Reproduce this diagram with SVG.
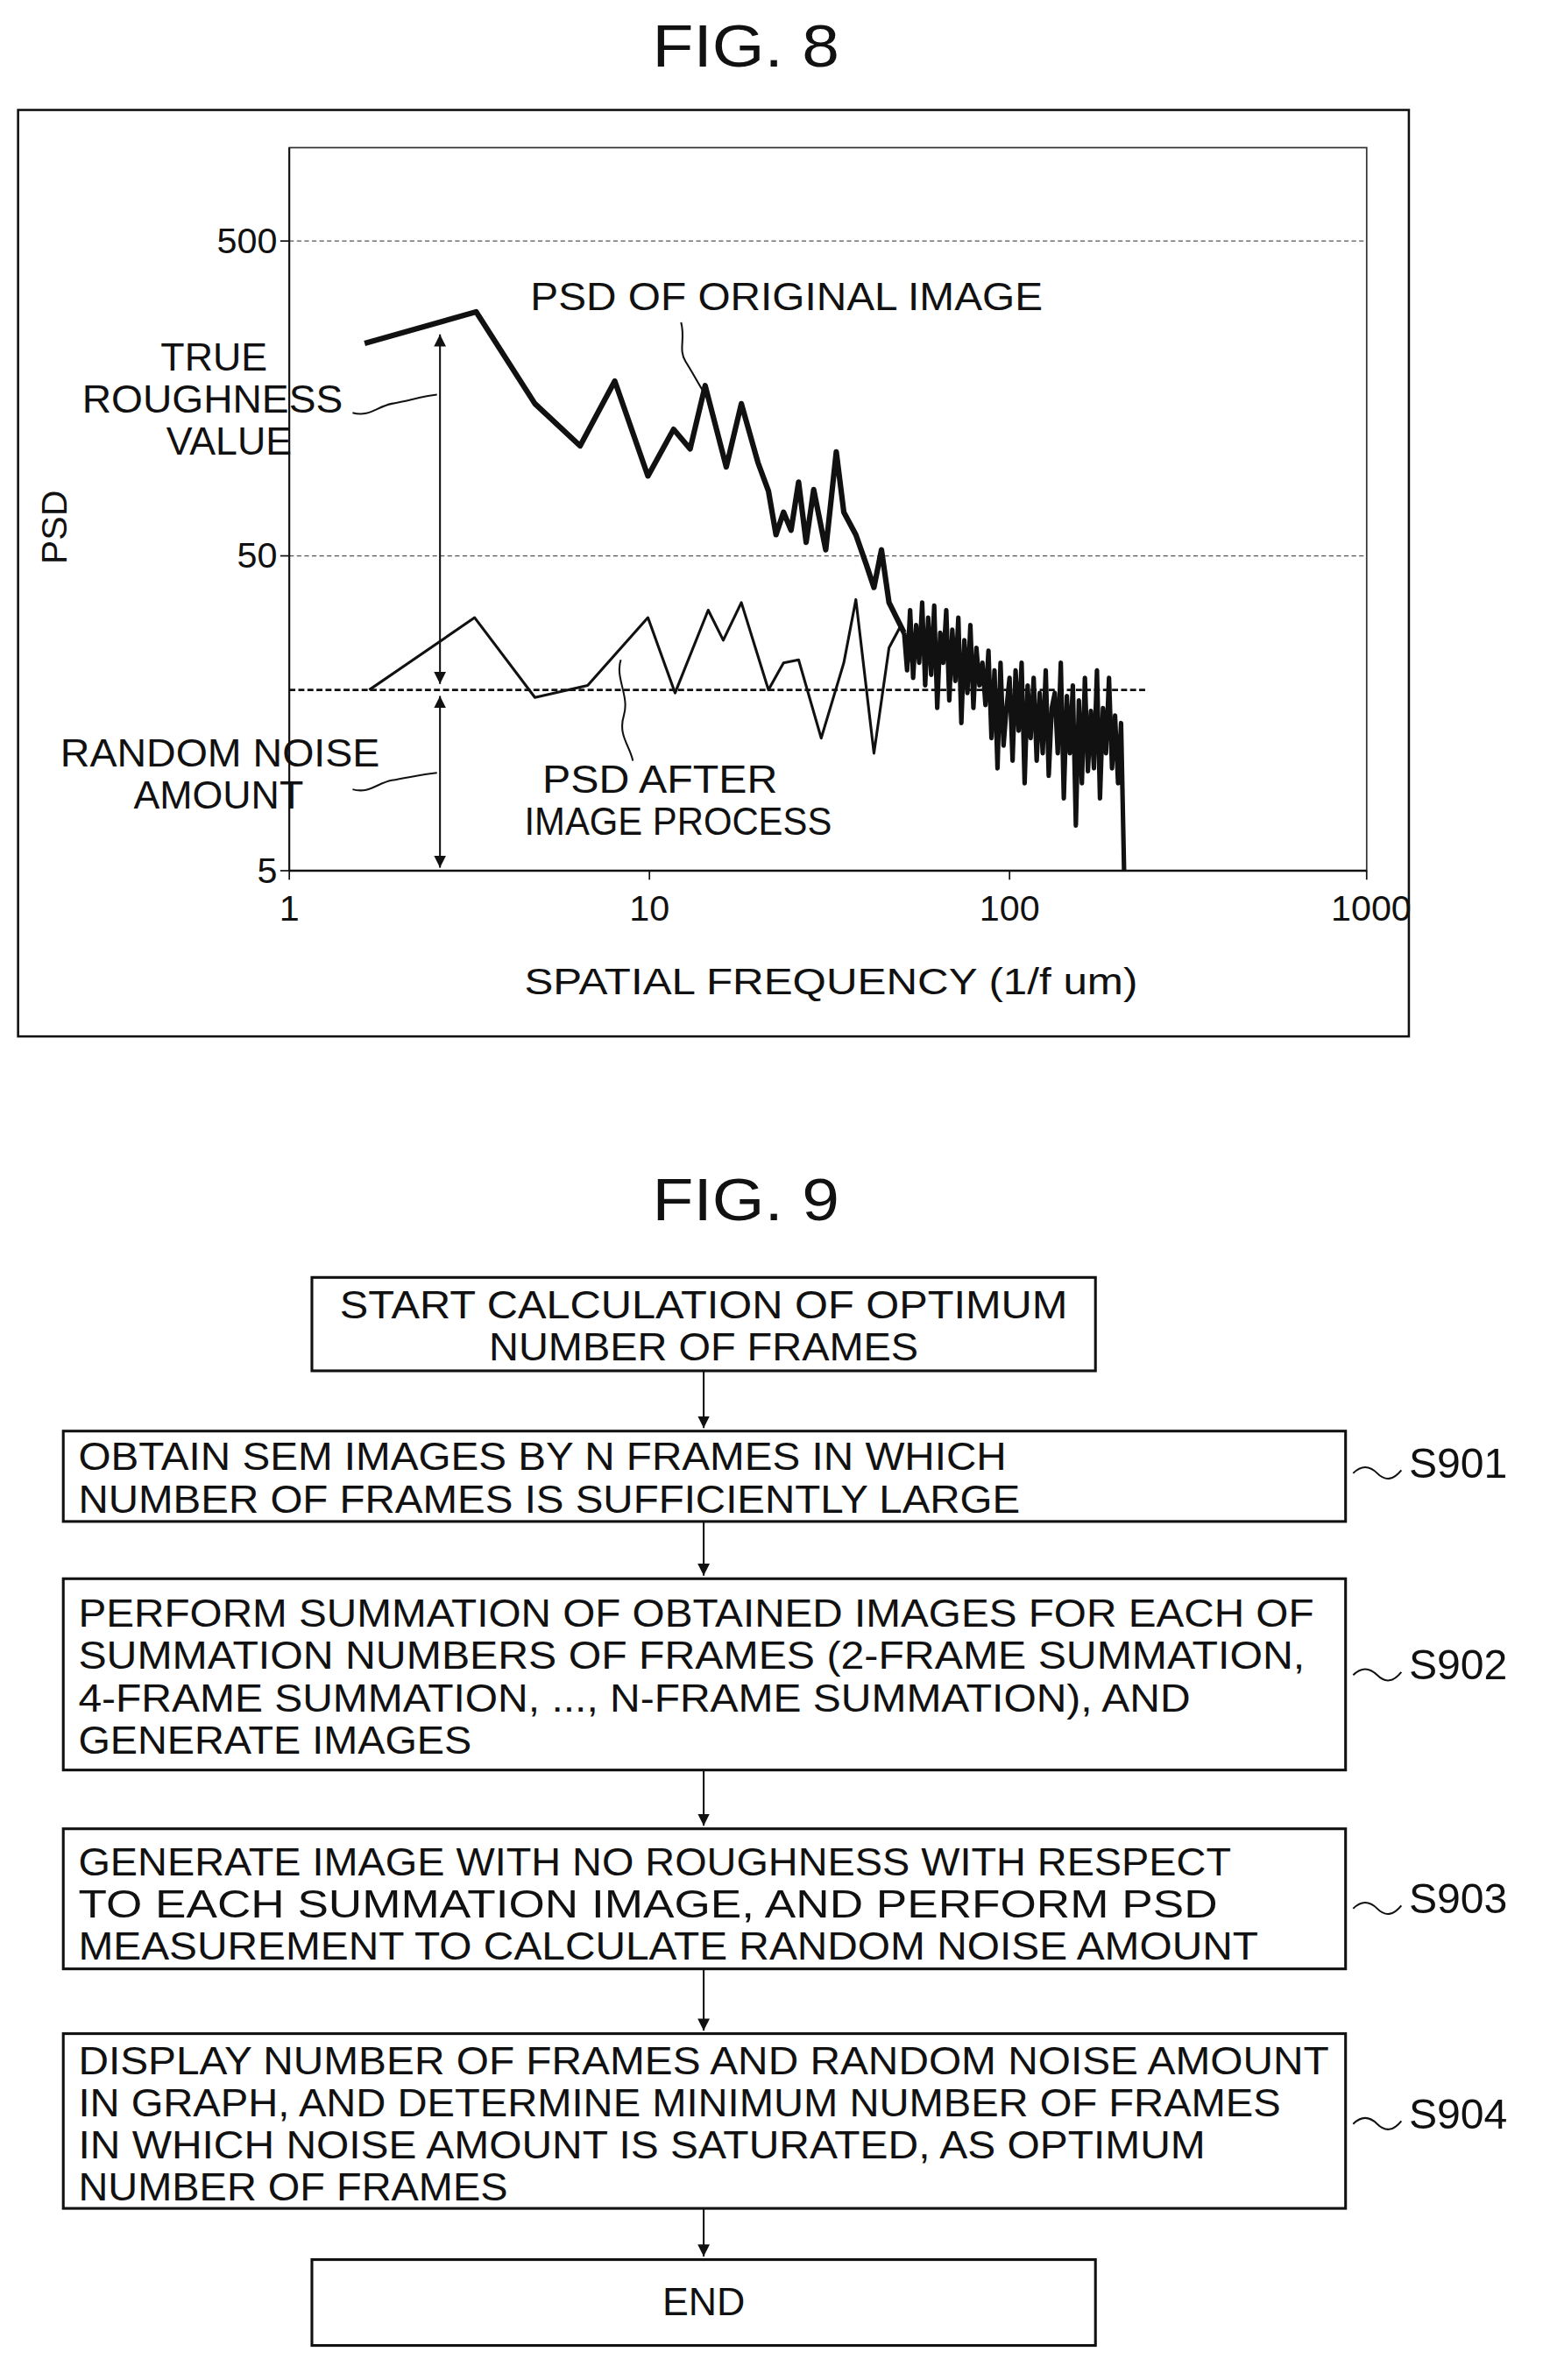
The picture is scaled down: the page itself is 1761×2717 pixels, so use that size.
<svg xmlns="http://www.w3.org/2000/svg" width="1761" height="2717" viewBox="0 0 1761 2717">
<style>
text{font-family:"Liberation Sans",Arial,sans-serif;fill:#111;}
.t{font-size:26px;}
.s{font-size:28px;}
.box{fill:#fff;stroke:#111;stroke-width:1.8;}
.grid{stroke:#555;stroke-width:0.8;stroke-dasharray:3 2;fill:none;}
.ln{fill:none;stroke:#111;stroke-width:1.2;}
</style>
<defs>
<marker id="ah" markerWidth="10" markerHeight="10" refX="8" refY="5" orient="auto-start-reverse" markerUnits="userSpaceOnUse"><path d="M0,1 L8,5 L0,9 z" fill="#111"/></marker>
</defs>
<rect width="1761" height="2717" fill="#fff"/>
<g transform="scale(1.7197)">
<g id="fig8">
<text x="495" y="44" font-size="40" text-anchor="middle" textLength="124" lengthAdjust="spacingAndGlyphs">FIG. 8</text>
<rect x="12" y="73" width="923" height="615" fill="none" stroke="#111" stroke-width="1.5"/>
<rect x="192" y="98" width="715" height="480" fill="none" stroke="#333" stroke-width="1"/>
<line class="grid" x1="192" y1="160" x2="907" y2="160"/>
<line class="grid" x1="192" y1="369" x2="907" y2="369"/>
<line x1="192" y1="578" x2="907" y2="578" stroke="#111" stroke-width="1.5"/>
<line x1="192" y1="98" x2="192" y2="578" stroke="#111" stroke-width="1.2"/>
<g stroke="#111" stroke-width="1"><line x1="186" y1="160" x2="192" y2="160"/><line x1="186" y1="369" x2="192" y2="369"/><line x1="186" y1="578" x2="192" y2="578"/><line x1="192" y1="578" x2="192" y2="584"/><line x1="431" y1="578" x2="431" y2="584"/><line x1="670" y1="578" x2="670" y2="584"/><line x1="907" y1="578" x2="907" y2="584"/></g>
<g font-size="24">
<text x="184" y="168" text-anchor="end">500</text>
<text x="184" y="377" text-anchor="end">50</text>
<text x="184" y="586" text-anchor="end">5</text>
<text x="192" y="611" text-anchor="middle">1</text>
<text x="431" y="611" text-anchor="middle">10</text>
<text x="670" y="611" text-anchor="middle">100</text>
<text x="910" y="611" text-anchor="middle">1000</text>
</g>
<text transform="translate(44,350) rotate(-90)" font-size="24" text-anchor="middle">PSD</text>
<text x="348" y="660" font-size="25" textLength="407" lengthAdjust="spacingAndGlyphs">SPATIAL FREQUENCY (1/f um)</text>
<line x1="192" y1="458" x2="762" y2="458" stroke="#111" stroke-width="1.6" stroke-dasharray="4 2"/>
<line class="ln" x1="292" y1="222" x2="292" y2="454" marker-start="url(#ah)" marker-end="url(#ah)"/>
<line class="ln" x1="292" y1="462" x2="292" y2="576" marker-start="url(#ah)" marker-end="url(#ah)"/>
<polyline fill="none" stroke="#111" stroke-width="3.6" stroke-linejoin="round" points="242,228 316,207 355,268 385,296 408,253 430,316 447,285 458,298 468,256 482,310 492,268 503,307 510,326 515,355 520,340 525,352 530,320 535,360 540,325 548,365 555,300 560,340 568,355 575,375 580,390 585,365 590,400 595,410 600,420"/>
<polyline fill="none" stroke="#111" stroke-width="1.8" stroke-linejoin="round" points="245,458 315,410 355,463 390,455 430,410 448,460 470,405 480,425 492,400 510,458 520,440 530,438 545,490 560,440 568,398 580,500 590,430 598,415 605,440"/>
<polyline fill="none" stroke="#111" stroke-width="3" stroke-linejoin="round" points="600,420 602,445 604,405 606,450 608,415 610,440 612,400 614,455 616,410 618,448 620,402 622,470 624,420 626,440 628,405 630,465 632,418 634,452 636,410 638,480 640,425 642,460 644,415 646,470 648,430 650,455 652,440 654,468 656,432 658,490 660,445 662,510 664,440 666,495 668,470 670,450 672,505 674,445 676,485 678,440 680,520 682,455 684,490 686,450 688,505 690,460 692,500 694,445 696,515 698,470 700,460 702,500 704,440 706,530 708,462 710,500 712,455 714,548 716,465 718,520 720,450 722,512 724,472 726,510 728,445 730,530 732,470 734,500 736,450 738,510 740,475 742,520 744,480 746,578"/>
<g font-size="26">
<text x="142" y="246" text-anchor="middle">TRUE</text>
<text x="141" y="274" text-anchor="middle" textLength="173" lengthAdjust="spacingAndGlyphs">ROUGHNESS</text>
<text x="152" y="302" text-anchor="middle">VALUE</text>
<text x="146" y="509" text-anchor="middle" textLength="212" lengthAdjust="spacingAndGlyphs">RANDOM NOISE</text>
<text x="145" y="537" text-anchor="middle">AMOUNT</text>
<text x="352" y="206" textLength="340" lengthAdjust="spacingAndGlyphs">PSD OF ORIGINAL IMAGE</text>
<text x="438" y="526" text-anchor="middle" textLength="156" lengthAdjust="spacingAndGlyphs">PSD AFTER</text>
<text x="450" y="554" text-anchor="middle" textLength="204" lengthAdjust="spacingAndGlyphs">IMAGE PROCESS</text>
</g>
<path class="ln" d="M234,274 C245,277 250,270 260,268 C272,266 280,263 290,262"/>
<path class="ln" d="M234,524 C245,527 250,520 260,518 C272,516 280,514 290,513"/>
<path class="ln" d="M452,214 C455,225 450,232 455,240 C460,248 462,252 468,262"/>
<path class="ln" d="M412,438 C408,450 418,462 414,475 C410,488 418,495 420,505"/>
</g>
<g id="fig9">
<text x="495" y="810" font-size="40" text-anchor="middle" textLength="124" lengthAdjust="spacingAndGlyphs">FIG. 9</text>
</g>
<g id="connectors">
<line class="ln" x1="467" y1="910" x2="467" y2="948" marker-end="url(#ah)"/>
<line class="ln" x1="467" y1="1010" x2="467" y2="1046" marker-end="url(#ah)"/>
<line class="ln" x1="467" y1="1175" x2="467" y2="1212" marker-end="url(#ah)"/>
<line class="ln" x1="467" y1="1307" x2="467" y2="1348" marker-end="url(#ah)"/>
<line class="ln" x1="467" y1="1466" x2="467" y2="1498" marker-end="url(#ah)"/>
<path class="ln" d="M898,978 q8,-8 16,0 t16,-2"/>
<path class="ln" d="M898,1112 q8,-8 16,0 t16,-2"/>
<path class="ln" d="M898,1267 q8,-8 16,0 t16,-2"/>
<path class="ln" d="M898,1410 q8,-8 16,0 t16,-2"/>
</g>
<g id="start"><rect class="box" x="207" y="848" width="520" height="62"/>
<text class="t" x="467" y="875" text-anchor="middle" textLength="483" lengthAdjust="spacingAndGlyphs">START CALCULATION OF OPTIMUM</text>
<text class="t" x="467" y="903" text-anchor="middle" textLength="285" lengthAdjust="spacingAndGlyphs">NUMBER OF FRAMES</text></g>
<g id="s901"><rect class="box" x="42" y="950" width="851" height="60"/>
<text class="t" x="52" y="976" textLength="616" lengthAdjust="spacingAndGlyphs">OBTAIN SEM IMAGES BY N FRAMES IN WHICH</text>
<text class="t" x="52" y="1004" textLength="625" lengthAdjust="spacingAndGlyphs">NUMBER OF FRAMES IS SUFFICIENTLY LARGE</text>
<text class="s" x="935" y="981">S901</text></g>
<g id="s902"><rect class="box" x="42" y="1048" width="851" height="127"/>
<text class="t" x="52" y="1080" textLength="820" lengthAdjust="spacingAndGlyphs">PERFORM SUMMATION OF OBTAINED IMAGES FOR EACH OF</text>
<text class="t" x="52" y="1108" textLength="814" lengthAdjust="spacingAndGlyphs">SUMMATION NUMBERS OF FRAMES (2-FRAME SUMMATION,</text>
<text class="t" x="52" y="1136" textLength="738" lengthAdjust="spacingAndGlyphs">4-FRAME SUMMATION, ..., N-FRAME SUMMATION), AND</text>
<text class="t" x="52" y="1164" textLength="261" lengthAdjust="spacingAndGlyphs">GENERATE IMAGES</text>
<text class="s" x="935" y="1115">S902</text></g>
<g id="s903"><rect class="box" x="42" y="1214" width="851" height="93"/>
<text class="t" x="52" y="1245" textLength="765" lengthAdjust="spacingAndGlyphs">GENERATE IMAGE WITH NO ROUGHNESS WITH RESPECT</text>
<text class="t" x="52" y="1273" textLength="756" lengthAdjust="spacingAndGlyphs">TO EACH SUMMATION IMAGE, AND PERFORM PSD</text>
<text class="t" x="52" y="1301" textLength="783" lengthAdjust="spacingAndGlyphs">MEASUREMENT TO CALCULATE RANDOM NOISE AMOUNT</text>
<text class="s" x="935" y="1270">S903</text></g>
<g id="s904"><rect class="box" x="42" y="1350" width="851" height="116"/>
<text class="t" x="52" y="1377" textLength="830" lengthAdjust="spacingAndGlyphs">DISPLAY NUMBER OF FRAMES AND RANDOM NOISE AMOUNT</text>
<text class="t" x="52" y="1405" textLength="798" lengthAdjust="spacingAndGlyphs">IN GRAPH, AND DETERMINE MINIMUM NUMBER OF FRAMES</text>
<text class="t" x="52" y="1433" textLength="748" lengthAdjust="spacingAndGlyphs">IN WHICH NOISE AMOUNT IS SATURATED, AS OPTIMUM</text>
<text class="t" x="52" y="1461" textLength="285" lengthAdjust="spacingAndGlyphs">NUMBER OF FRAMES</text>
<text class="s" x="935" y="1413">S904</text></g>
<g id="end"><rect class="box" x="207" y="1500" width="520" height="57"/>
<text class="t" x="467" y="1537" text-anchor="middle">END</text></g>
</g>
</svg>
